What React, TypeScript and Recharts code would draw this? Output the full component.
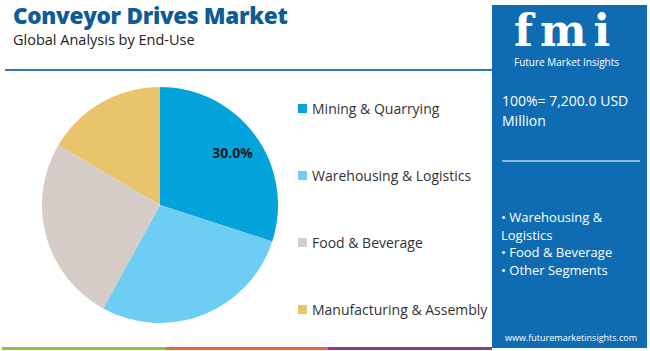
import React from 'react';
import { PieChart, Pie, Cell } from 'recharts';

const segments = ['Mining & Quarrying', 'Warehousing & Logistics', 'Food & Beverage', 'Manufacturing & Assembly'];
const shares = [30.0, 28.0, 25.5, 16.5];
const colors = ['#05a3dc', '#6dcdf2', '#d6cdc9', '#e9c46d'];
const bullets = ['Warehousing & Logistics', 'Food & Beverage', 'Other Segments'];
const totalLabel = '100%= 7,200.0 USD Million';

const data = segments.map((name, i) => ({ name, value: shares[i] }));

const font = '"Open Sans", "DejaVu Sans", sans-serif';
const RAD = Math.PI / 180;

const renderLabel = (props: any) => {
  const { cx, cy, midAngle, outerRadius, index, value } = props;
  if (index !== 0) return null;
  const r = outerRadius * 0.76;
  const x = cx + r * Math.cos(-midAngle * RAD);
  const y = cy + r * Math.sin(-midAngle * RAD);
  return (
    <text x={x} y={y} textAnchor="middle" dominantBaseline="central" fill="#1a1a1a"
      fontFamily={font} fontWeight={700} fontSize={14}>
      {value.toFixed(1)}%
    </text>
  );
};

const App: React.FC = () => {
  return (
    <div style={{ position: 'absolute', left: 0, top: 0, width: 650, height: 351, background: '#fff', fontFamily: font, overflow: 'hidden' }}>
      <div style={{ position: 'absolute', left: 13, top: 3, fontSize: 22.5, lineHeight: '26px', fontWeight: 800, color: '#0e5c96', letterSpacing: -0.3, whiteSpace: 'nowrap' }}>
        Conveyor Drives Market
      </div>
      <div style={{ position: 'absolute', left: 13, top: 31, fontSize: 14.5, lineHeight: '18px', color: '#222', whiteSpace: 'nowrap' }}>
        Global Analysis by End-Use
      </div>
      <div style={{ position: 'absolute', left: 5, top: 69, width: 487, height: 2, background: '#2a78b8' }} />

      <div style={{ position: 'absolute', left: 0, top: 0 }}>
        <PieChart width={290} height={351}>
          <Pie data={data} dataKey="value" nameKey="name" cx={155} cy={200} outerRadius={118}
            startAngle={90} endAngle={-270} stroke="none" label={renderLabel} labelLine={false}
            isAnimationActive={false}>
            {data.map((d, i) => <Cell key={d.name} fill={colors[i]} />)}
          </Pie>
        </PieChart>
      </div>

      {segments.map((s, i) => (
        <div key={s} style={{ position: 'absolute', left: 298, top: 99 + i * 67, display: 'flex', alignItems: 'center', fontSize: 14, color: '#333', whiteSpace: 'nowrap' }}>
          <div style={{ width: 9, height: 9, background: colors[i], marginRight: 5 }} />
          <span>{s}</span>
        </div>
      ))}

      <div style={{ position: 'absolute', left: 492, top: 5, width: 155, height: 343, background: '#0f6cb2', color: '#fff' }}>
        <div style={{ position: 'absolute', left: 22, top: 0, fontSize: 44, fontWeight: 800, fontFamily: '"DejaVu Serif", serif', letterSpacing: 7, whiteSpace: 'nowrap' }}>fmi</div>
        <div style={{ position: 'absolute', left: 22, top: 52, fontSize: 10, lineHeight: '11px', whiteSpace: 'nowrap' }}>Future Market Insights</div>
        <div style={{ position: 'absolute', left: 10, top: 86, width: 140, fontSize: 14, lineHeight: '20px' }}>{totalLabel}</div>
        <div style={{ position: 'absolute', left: 10, top: 155, width: 138, height: 1.5, background: '#8ab8e0' }} />
        <div style={{ position: 'absolute', left: 9, top: 204, width: 140, fontSize: 13, lineHeight: '17.5px' }}>
          {bullets.map(b => <div key={b}>{'\u2022 ' + b}</div>)}
        </div>
        <div style={{ position: 'absolute', left: 13, top: 326, fontSize: 9, whiteSpace: 'nowrap' }}>www.futuremarketinsights.com</div>
      </div>

      <div style={{ position: 'absolute', left: 2, top: 347, width: 164, height: 3, background: '#8dc04b' }} />
      <div style={{ position: 'absolute', left: 166, top: 347, width: 162, height: 3, background: '#e8663a' }} />
      <div style={{ position: 'absolute', left: 328, top: 347, width: 164, height: 3, background: '#8e3b8e' }} />
    </div>
  );
};

export default App;
